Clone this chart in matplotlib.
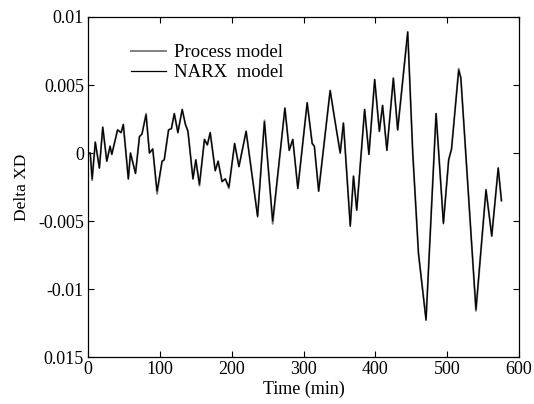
import numpy as np
import matplotlib.pyplot as plt

# time (min) and Delta XD
time_min = [0, 3, 5.6, 10, 15.7, 20.4, 26, 30.6, 33, 41, 46, 49, 56, 59, 66, 71.5, 75,
            80.7, 85.4, 90, 96, 103, 106, 112, 116, 120, 125, 131, 135.5, 139, 146, 150,
            155, 162, 166, 170, 177, 181, 186.5, 191, 196, 204, 210, 220, 236, 245.5,
            257, 274, 280, 285, 292, 305, 312, 315, 321, 337, 343, 351, 355.5, 365, 369.5,
            374, 385, 391, 399, 405.5, 410, 416, 425, 431, 445, 452, 460, 470.5, 484.5,
            494.7, 502, 506, 516, 519, 540, 554, 562, 571, 575.5]

process_vals = [0.0, 0.0, -0.0020, 0.0008, -0.0011, 0.0019, -0.0006, 0.0005, -0.0001,
                0.0017, 0.0015, 0.0021, -0.0019, 0.0, -0.0015, 0.0012, 0.0014, 0.0029,
                0.0, 0.0003, -0.0030, -0.0006, -0.0005, 0.0017, 0.0018, 0.0029, 0.0015,
                0.0032, 0.0021, 0.0016, -0.0019, -0.0005, -0.0024, 0.0010, 0.0006, 0.0015,
                -0.0013, -0.0006, -0.0021, -0.0019, -0.0026, 0.0007, -0.0010, 0.0016,
                -0.0046, 0.0024, -0.0052, 0.0033, 0.0002, 0.0010, -0.0026, 0.0037, 0.0007,
                0.0005, -0.0028, 0.0046, 0.0026, 0.0, 0.0022, -0.0053, -0.0017,
                -0.0042, 0.0032, -0.0001, 0.0054, 0.0016, 0.0035, 0.0002, 0.0055, 0.0017,
                0.0089, 0.0, -0.0074, -0.0122, 0.0029, -0.0051, -0.0005, 0.0003, 0.0062,
                0.0055, -0.0116, -0.0027, -0.0061, -0.0011, -0.0035]

narx_vals = [0.0, 0.0, -0.0019, 0.0008, -0.0011, 0.0019, -0.0006, 0.0005, -0.0001,
             0.0017, 0.0015, 0.0021, -0.0019, 0.0, -0.0015, 0.0012, 0.0014, 0.0028,
             0.0, 0.0003, -0.0028, -0.0006, -0.0005, 0.0017, 0.0018, 0.0029, 0.0015,
             0.0032, 0.0021, 0.0016, -0.0019, -0.0005, -0.0023, 0.0010, 0.0006, 0.0015,
             -0.0013, -0.0006, -0.0021, -0.0019, -0.0025, 0.0007, -0.0010, 0.0016,
             -0.0047, 0.0023, -0.0050, 0.0033, 0.0002, 0.0010, -0.0026, 0.0037, 0.0007,
             0.0005, -0.0028, 0.0046, 0.0026, 0.0, 0.0022, -0.0054, -0.0017,
             -0.0042, 0.0032, -0.0001, 0.0054, 0.0016, 0.0035, 0.0002, 0.0055, 0.0017,
             0.0089, 0.0, -0.0074, -0.0123, 0.0029, -0.0052, -0.0005, 0.0003, 0.0061,
             0.0055, -0.0115, -0.0027, -0.0061, -0.0011, -0.0035]

xticks = [0, 100, 200, 300, 400, 500, 600]
yticks = [0.01, 0.005, 0, -0.005, -0.01, -0.015]
ytick_labels = ['0.01', '0.005', '0', '-0.005', '-0.01', '0.015']

plt.rcParams['font.family'] = ['Liberation Serif', 'DejaVu Serif']

fig = plt.figure(figsize=(5.34, 4.04), dpi=100)
ax = fig.add_axes([0.165, 0.116, 0.807, 0.842])

ax.plot(time_min, process_vals, color='#808080', lw=1.4, label='Process model')
ax.plot(time_min, narx_vals, color='black', lw=0.9, label='NARX  model')

ax.set_xlim(0, 600)
ax.set_ylim(-0.015, 0.01)
ax.set_xticks(xticks)
ax.set_yticks(yticks)
ax.set_yticklabels(ytick_labels)
ax.tick_params(direction='in', length=4, width=0.8, top=True, right=True,
               labelsize=13, pad=3)
for s in ax.spines.values():
    s.set_linewidth(0.9)

ax.set_xlabel('Time (min)', fontsize=13, labelpad=2)
ax.set_ylabel('Delta XD', fontsize=12.5, labelpad=6)

ax.legend(loc='upper left', bbox_to_anchor=(0.06, 0.97), frameon=False,
          fontsize=13.5, handlelength=1.9, handletextpad=0.4, labelspacing=0.15)

fig.savefig('out.png', dpi=100)
